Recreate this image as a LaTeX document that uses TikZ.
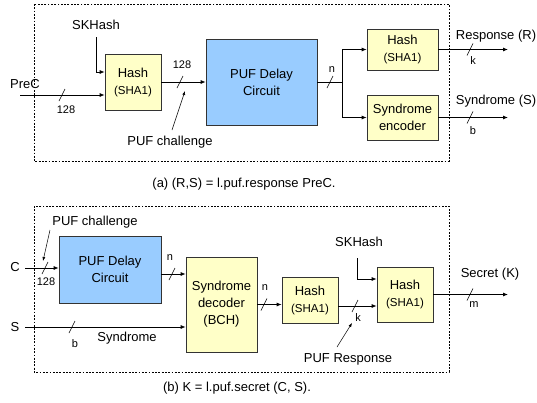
\documentclass[tikz,border=0pt]{standalone}
\usepackage{fontspec}
\setmainfont{Liberation Sans}
\usetikzlibrary{arrows.meta}
\definecolor{boxyellow}{RGB}{255,255,200}
\definecolor{boxblue}{RGB}{153,204,255}
\newcommand{\busmark}[1]{\draw[line width=0.6pt] ([shift={(-3,6)}]#1) -- ([shift={(3,-6)}]#1);}
\newcommand{\sha}{{\fontsize{11.5}{17}\selectfont(SHA1)}}

\begin{document}
\begin{tikzpicture}[x=1pt,y=-1pt,
	font=\fontsize{13}{17}\selectfont,
	hashbox/.style={draw=black!80,line width=0.7pt,fill=boxyellow,align=center,inner sep=0pt},
	pufbox/.style={draw=black!80,line width=0.7pt,fill=boxblue,align=center,inner sep=0pt},
	wire/.style={line width=0.8pt,-{Latex[length=5pt,width=4pt]}},
	pointer/.style={line width=0.5pt,-{Latex[length=4pt,width=3pt]}},
	frame/.style={line width=0.6pt,dash pattern=on 1.8pt off 1.5pt},
	small/.style={font=\fontsize{11}{13}\selectfont}]
		\useasboundingbox (0,0) rectangle (537,402);

		% (a) response
		\draw[frame] (34,4) rectangle (449,161);
		\node[hashbox,minimum width=56pt,minimum height=56pt] (hashA) at (133,82) {Hash\\\sha};
		\node[pufbox,minimum width=111pt,minimum height=86pt] (pufA) at (261.5,82) {PUF Delay\\Circuit};
		\node[hashbox,minimum width=71pt,minimum height=41pt] (hashB) at (402.5,49.5) {Hash\\\sha};
		\node[hashbox,minimum width=71pt,minimum height=45pt] (enc) at (402.5,117.5) {Syndrome\\encoder};

		\node (prec) at (25,84) {PreC};
		\coordinate (precin) at (20,95);
		\draw[wire] (precin) -- (precin -| hashA.west);
		\busmark{62,95}
		\node[small] (nprec) at (66,110) {128};

		\node (skA) at (96,25) {SKHash};
		\coordinate (skAin) at (96,37);
		\draw[wire] (skAin) |- ([yshift=10pt]hashA.west);

		\draw[wire] (hashA.east) -- (pufA.west);
		\busmark{180,82}
		\node[small] (nchalA) at (182,65) {128};
		\node (chalA) at (170,142) {PUF challenge};
		\coordinate (chalAtail) at (172,130);
		\coordinate (chalAtip) at (185,91);
		\draw[pointer] (chalAtail) -- (chalAtip);

		\coordinate (split) at (342,82);
		\draw[line width=0.8pt] (pufA.east) -- (split);
		\draw[wire] (split) |- (hashB.west);
		\draw[wire] (split) |- (enc.west);
		\busmark{330,82}
		\node[small] (nsplit) at (332,70) {n};

		\coordinate (respout) at (508,49.5);
		\draw[wire] (hashB.east) -- (respout);
		\busmark{470,49.5}
		\node[small] (nresp) at (473,61) {k};
		\node (resp) at (496,36) {Response (R)};

		\coordinate (syndout) at (508,117.5);
		\draw[wire] (enc.east) -- (syndout);
		\busmark{470,117.5}
		\node[small] (nsynd) at (473,131) {b};
		\node (synd) at (496,101) {Syndrome (S)};

		\node (capA) at (244,184) {(a) (R,S) = l.puf.response PreC.};

		% (b) secret
		\draw[frame] (34,206) rectangle (449,372);
		\node[pufbox,minimum width=102pt,minimum height=67pt] (pufB) at (110,269.5) {PUF Delay\\Circuit};
		\node[hashbox,minimum width=71pt,minimum height=95pt] (dec) at (221.5,304.5) {Syndrome\\decoder\\(BCH)};
		\node[hashbox,minimum width=56pt,minimum height=46pt] (hashC) at (310,300) {Hash\\\sha};
		\node[hashbox,minimum width=56pt,minimum height=55pt] (hashD) at (405,294.5) {Hash\\\sha};

		\node (cin) at (15,267) {C};
		\coordinate (cinl) at (25,268);
		\draw[wire] (cinl) -- (cinl -| pufB.west);
		\busmark{45,268}
		\node[small] (nc) at (46,282) {128};
		\node (chalB) at (95,222) {PUF challenge};
		\coordinate (chalBtail) at (50,230);
		\coordinate (chalBtip) at (43,261);
		\draw[pointer] (chalBtail) -- (chalBtip);

		\node (sin) at (15,327) {S};
		\coordinate (sinl) at (25,327);
		\draw[wire] (sinl) -- (sinl -| dec.west);
		\busmark{72,327}
		\node[small] (ns) at (75,344) {b};
		\node (syndB) at (127,338) {Syndrome};

		\draw[wire] ([yshift=-4.5pt]pufB.east) -- ([yshift=-4.5pt]pufB.east -| dec.west);
		\busmark{172,274}
		\node[small] (npuf) at (170,258) {n};

		\draw[wire] (dec.east) -- (dec.east -| hashC.west);
		\busmark{264,304.5}
		\node[small] (ndec) at (265,288) {n};

		\draw[wire] ([yshift=-6pt]hashC.east) -- ([yshift=-6pt]hashC.east -| hashD.west);
		\busmark{355,306}
		\node[small] (nk) at (358,318) {k};
		\node (respB) at (348,359) {PUF Response};
		\coordinate (respBtail) at (337,347);
		\coordinate (respBtip) at (352,323);
		\draw[pointer] (respBtail) -- (respBtip);

		\node (skB) at (359,242) {SKHash};
		\coordinate (skBin) at (357,258);
		\draw[wire] (skBin) |- ([yshift=15.5pt]hashD.west);

		\coordinate (secout) at (508,294.5);
		\draw[wire] (hashD.east) -- (secout);
		\busmark{470,294.5}
		\node[small] (nm) at (474,305) {m};
		\node (sec) at (490,274) {Secret (K)};

		\node (capB) at (237,388) {(b) K = l.puf.secret (C, S).};
\end{tikzpicture}
\end{document}
